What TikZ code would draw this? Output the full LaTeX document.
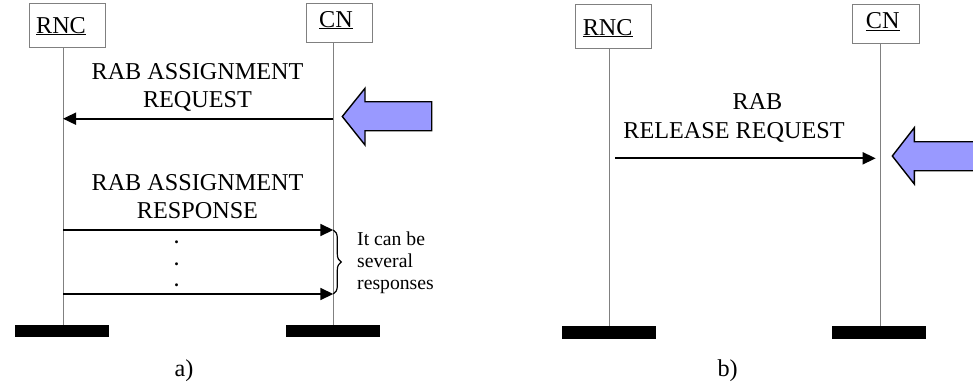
\documentclass[tikz,border=0pt]{standalone}
\usepackage{fontspec}
\setmainfont{Liberation Serif}
\usetikzlibrary{arrows.meta,decorations.pathreplacing}
\definecolor{lifegray}{HTML}{808080}
\definecolor{bluearrow}{HTML}{9999FF}
\tikzset{
  actorbox/.style={draw=lifegray, line width=1pt, fill=white, inner sep=0pt},
  lifeline/.style={draw=lifegray, line width=1pt},
  endbar/.style={fill=black, draw=none, inner sep=0pt, minimum width=94pt, minimum height=12.5pt},
  msg/.style={draw=black, line width=1.7pt, -{Triangle[length=13pt,width=12pt]}},
  bigtxt/.style={font=\fontsize{24.2}{28}\selectfont, inner sep=0pt, anchor=base},
  dottxt/.style={font=\bfseries\fontsize{18}{21.5}\selectfont, inner sep=0pt, anchor=base},
  smalltxt/.style={font=\fontsize{19.7}{23}\selectfont, inner sep=0pt, anchor=base west},
  fatarrow/.style={fill=bluearrow, draw=black, line width=1.4pt, line join=miter},
  bracestyle/.style={draw=black, line width=1.2pt, decorate, decoration={brace, amplitude=8pt}}
}
\begin{document}
\begin{tikzpicture}[x=1pt,y=-1pt]
\useasboundingbox (0,0) rectangle (973,384);
\clip (0,0) rectangle (973,384);
% ---------- a) ----------
\node[actorbox, minimum width=76pt, minimum height=44pt] (rncA) at (67.3,25.3) {};
\node[bigtxt] (rncAt) at (61,33) {\underline{RNC}};
\node[actorbox, minimum width=66.3pt, minimum height=39.4pt] (cnA) at (339.2,23) {};
\node[bigtxt] (cnAt) at (336,27) {\underline{CN}};
\node[endbar] (barRA) at (62.2,331.2) {};
\node[endbar] (barCA) at (332.9,331.2) {};
\draw[lifeline] (rncA.south -| 63,0) -- (63,325);
\draw[lifeline] (cnA.south -| 333.3,0) -- (333.3,325);
\coordinate (rqS) at (333.3,118.7);
\coordinate (rqE) at (63,118.7);
\coordinate (rs1S) at (63,230);
\coordinate (rs1E) at (333.3,230);
\coordinate (rs2S) at (63,294);
\coordinate (rs2E) at (333.3,294);
\node[bigtxt] (lreq1) at (197.5,79) {RAB ASSIGNMENT};
\node[bigtxt] (lreq2) at (197.5,107.5) {REQUEST};
\draw[msg] (rqS) -- (rqE);
\node[bigtxt] (lrsp1) at (197.5,190) {RAB ASSIGNMENT};
\node[bigtxt] (lrsp2) at (197.5,218) {RESPONSE};
\draw[msg] (rs1S) -- (rs1E);
\draw[msg] (rs2S) -- (rs2E);
\node[dottxt] (dot1) at (176.7,243.5) {.};
\node[dottxt] (dot2) at (176.7,265.5) {.};
\node[dottxt] (dot3) at (176.7,286.5) {.};
\draw[bracestyle] (rs1E) -- (rs2E);
\node[smalltxt] (note1) at (357,245) {It can be};
\node[smalltxt] (note2) at (357,267) {several};
\node[smalltxt] (note3) at (357,289.5) {responses};
\draw[fatarrow] (342.3,116.5) -- (365,88.3) -- (365,101.7) -- (431.7,101.7) -- (431.7,130.7) -- (365,130.7) -- (365,145) -- cycle;
\node[bigtxt] (capA) at (184,376) {a)};
% ---------- b) ----------
\node[actorbox, minimum width=75.7pt, minimum height=44.3pt] (rncB) at (613.8,26.2) {};
\node[bigtxt] (rncBt) at (607.7,35) {\underline{RNC}};
\node[actorbox, minimum width=66.6pt, minimum height=39.3pt] (cnB) at (886,23.7) {};
\node[bigtxt] (cnBt) at (882.7,28.3) {\underline{CN}};
\node[endbar] (barRB) at (608.7,332.5) {};
\node[endbar] (barCB) at (879.2,332.5) {};
\draw[lifeline] (rncB.south -| 609.7,0) -- (609.7,326);
\draw[lifeline] (cnB.south -| 880,0) -- (880,326);
\coordinate (relS) at (615,158.3);
\coordinate (relE) at (875.7,158.3);
\node[bigtxt] (lrel1) at (757.5,109.3) {RAB};
\node[bigtxt] (lrel2) at (734,138.3) {RELEASE REQUEST};
\draw[msg] (relS) -- (relE);
\draw[fatarrow] (892.3,156) -- (914.3,127.7) -- (914.3,141.7) -- (990,141.7) -- (990,170.7) -- (914.3,170.7) -- (914.3,184) -- cycle;
\node[bigtxt] (capB) at (727.7,376) {b)};
\end{tikzpicture}
\end{document}
